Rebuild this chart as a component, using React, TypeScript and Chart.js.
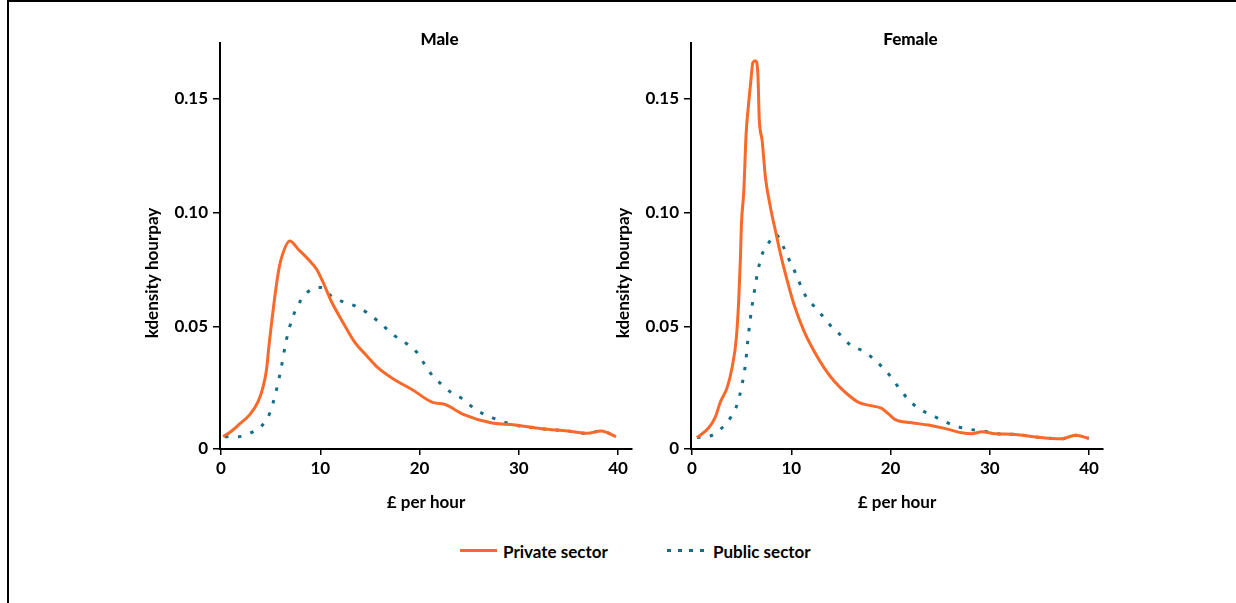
import React, { useEffect, useRef } from "react";
import { Chart, registerables } from "chart.js";

Chart.register(...registerables);

const FONT = "Lato, 'Noto Sans', sans-serif";
const ORANGE = "#F8692A";
const TEAL = "#146E89";

// Axis ticks
const xTickValues = [0, 10, 20, 30, 40];
const yTickValues = [0, 0.05, 0.1, 0.15];
const yTickLabels = ["0", "0.05", "0.10", "0.15"];
const X_MIN = -0.1;
const X_MAX = 41.4;
const Y_MIN = -0.0035;
const Y_MAX = 0.1745;

const seriesNames = ["Private sector", "Public sector"];
const panelTitles = ["Male", "Female"];
const xAxisTitle = "£ per hour";
const yAxisTitle = "kdensity hourpay";

// Male, private sector
const malePrivateHour = [0.23, 1.07, 1.91, 2.92, 3.76, 4.26, 4.59, 4.83, 5.1, 5.43, 5.77, 6.1, 6.94, 7.78, 8.95, 9.63, 10.3, 11.1, 12.3, 13.5, 14.7, 15.8, 17.7, 19.2, 21.4, 22.5, 24.4, 27.2, 29.6, 32.3, 34.9, 36.9, 38.3, 39.8];
const malePrivateDensity = [0.0019, 0.0044, 0.0076, 0.0117, 0.0175, 0.0241, 0.0314, 0.0417, 0.0519, 0.0636, 0.0738, 0.0804, 0.0877, 0.0841, 0.0789, 0.0753, 0.0694, 0.0614, 0.0519, 0.0431, 0.0373, 0.0322, 0.0263, 0.0227, 0.0168, 0.0161, 0.0117, 0.008, 0.007, 0.0054, 0.0044, 0.0034, 0.0044, 0.0019];

// Male, public sector
const malePublicHour = [0.4, 1.74, 2.92, 4.09, 4.93, 5.6, 6.1, 6.6, 7.27, 8.1, 9.12, 10.13, 11.1, 12.3, 13.5, 14.7, 15.8, 17.5, 18.8, 19.7, 20.4, 21.2, 22.2, 23.2, 24.4, 25.6, 26.9, 28.2, 29.6, 32.3, 34.9, 36.9, 38.3, 39.8];
const malePublicDensity = [0.0019, 0.0019, 0.0034, 0.0066, 0.0124, 0.0227, 0.0329, 0.0446, 0.0548, 0.0621, 0.0665, 0.0673, 0.0636, 0.061, 0.0592, 0.0563, 0.0526, 0.0461, 0.0424, 0.039, 0.0344, 0.0292, 0.0249, 0.0212, 0.0183, 0.0139, 0.011, 0.0088, 0.007, 0.0054, 0.0044, 0.0034, 0.0044, 0.0019];

// Female, private sector
const femalePrivateHour = [0.5, 1.69, 2.35, 2.86, 3.54, 4.04, 4.47, 4.72, 4.88, 4.98, 5.22, 5.45, 5.73, 5.96, 6.13, 6.39, 6.64, 6.77, 7.07, 7.4, 7.91, 8.41, 8.92, 9.6, 10.27, 11.28, 12.29, 13.3, 14.31, 15.66, 16.84, 18.0, 19.1, 19.77, 20.43, 22.12, 23.81, 25.83, 27.17, 28.18, 29.19, 30.54, 32.56, 34.58, 37.27, 38.62, 39.97];
const femalePrivateDensity = [0.0015, 0.0058, 0.0105, 0.0171, 0.0234, 0.0322, 0.0453, 0.0629, 0.0804, 0.095, 0.1096, 0.1345, 0.1491, 0.1594, 0.1659, 0.1667, 0.1608, 0.1418, 0.1316, 0.1155, 0.1023, 0.0921, 0.0819, 0.0702, 0.0599, 0.0482, 0.0395, 0.0322, 0.0263, 0.0205, 0.0168, 0.0155, 0.0143, 0.012, 0.0095, 0.008, 0.007, 0.0051, 0.0036, 0.0032, 0.0041, 0.0032, 0.0029, 0.0018, 0.001, 0.0025, 0.0012];

// Female, public sector
const femalePublicHour = [0.5, 1.85, 3.03, 3.87, 4.55, 5.05, 5.38, 5.62, 5.89, 6.23, 6.64, 7.07, 7.74, 8.41, 9.16, 9.76, 10.33, 11.35, 12.35, 13.3, 14.14, 15.05, 16.06, 17.24, 18.3, 19.3, 20.1, 20.94, 21.79, 22.8, 24.14, 25.32, 26.5, 28.0, 29.36, 30.54, 32.56, 34.58, 37.27, 38.62, 39.97];
const femalePublicDensity = [0.0015, 0.0022, 0.0058, 0.0102, 0.0161, 0.0249, 0.0336, 0.0439, 0.0541, 0.0643, 0.0746, 0.0819, 0.087, 0.0906, 0.0855, 0.0797, 0.0746, 0.0643, 0.0588, 0.0541, 0.0497, 0.0461, 0.0417, 0.0395, 0.036, 0.0318, 0.0278, 0.0227, 0.0183, 0.0143, 0.0114, 0.0088, 0.0066, 0.0051, 0.0044, 0.0032, 0.0029, 0.0018, 0.001, 0.0025, 0.0012];

const toPoints = (xs: number[], ys: number[]) => xs.map((x, i) => ({ x, y: ys[i] }));

const panelTextPlugin = {
  id: "panelText",
  afterDraw(chart: any, _args: any, opts: any) {
    const { ctx, chartArea } = chart;
    ctx.save();
    ctx.fillStyle = "#000";
    ctx.textAlign = "center";
    ctx.textBaseline = "middle";
    ctx.font = `900 17px ${FONT}`;
    ctx.fillText(opts.title, chartArea.left + 219.5, chartArea.top - 3);
    ctx.translate(chartArea.left - 67, chartArea.top + 230);
    ctx.rotate(-Math.PI / 2);
    ctx.font = `bold 17px ${FONT}`;
    ctx.fillText(opts.yTitle, 0, 0);
    ctx.restore();
  },
};

type PanelProps = {
  title: string;
  left: number;
  width: number;
  yAxisWidth: number;
  privateHour: number[];
  privateDensity: number[];
  publicHour: number[];
  publicDensity: number[];
};

const CANVAS_H = 530;
const AREA_BOTTOM = 449;

function Panel(p: PanelProps) {
  const ref = useRef<HTMLCanvasElement | null>(null);
  useEffect(() => {
    if (!ref.current) return;
    const tickFont = { family: FONT, size: 17, weight: "bold" as any };
    const chart = new Chart(ref.current, {
      type: "line",
      data: {
        datasets: [
          {
            label: seriesNames[0],
            data: toPoints(p.privateHour, p.privateDensity),
            borderColor: ORANGE,
            backgroundColor: ORANGE,
            borderWidth: 3,
            pointRadius: 0,
            cubicInterpolationMode: "monotone",
          },
          {
            label: seriesNames[1],
            data: toPoints(p.publicHour, p.publicDensity),
            borderColor: TEAL,
            backgroundColor: TEAL,
            borderWidth: 3,
            borderDash: [3.5, 9.5],
            pointRadius: 0,
            cubicInterpolationMode: "monotone",
          },
        ],
      },
      options: {
        responsive: false,
        animation: false,
        devicePixelRatio: 1,
        layout: { padding: { left: 0, right: 8, top: 43, bottom: 0 } },
        plugins: {
          legend: { display: false },
          tooltip: { enabled: false },
          title: { display: false },
          panelText: { title: p.title, yTitle: yAxisTitle },
        } as any,
        scales: {
          x: {
            type: "linear",
            min: X_MIN,
            max: X_MAX,
            afterBuildTicks: (s: any) => {
              s.ticks = xTickValues.map((v) => ({ value: v }));
            },
            afterFit: (s: any) => {
              s.height = CANVAS_H - AREA_BOTTOM;
            },
            grid: { display: true, drawOnChartArea: false, drawTicks: true, tickLength: 6, color: "#000", lineWidth: 1.5 },
            border: { display: true, color: "#000", width: 2 },
            ticks: {
              color: "#000",
              font: tickFont,
              padding: 3,
              maxRotation: 0,
              callback: (v: any) => String(v),
            },
            title: {
              display: true,
              text: xAxisTitle,
              color: "#000",
              font: { family: FONT, size: 17, weight: "bold" as any, lineHeight: 1.2 },
              padding: { top: 0, bottom: 17 },
            },
          },
          y: {
            type: "linear",
            min: Y_MIN,
            max: Y_MAX,
            afterBuildTicks: (s: any) => {
              s.ticks = yTickValues.map((v) => ({ value: v === 0 ? Y_MIN : v }));
            },
            afterFit: (s: any) => {
              s.width = p.yAxisWidth;
            },
            grid: { display: true, drawOnChartArea: false, drawTicks: true, tickLength: 7, color: "#000", lineWidth: 1.5 },
            border: { display: true, color: "#000", width: 2 },
            ticks: {
              color: "#000",
              font: tickFont,
              padding: 5,
              callback: (_v: any, i: number) => yTickLabels[i],
            },
          },
        },
      },
      plugins: [panelTextPlugin],
    });
    return () => chart.destroy();
  }, []);
  return (
    <canvas
      ref={ref}
      width={p.width}
      height={CANVAS_H}
      style={{ position: "absolute", left: p.left, top: 0, width: p.width, height: CANVAS_H }}
    />
  );
}

export default function App() {
  const legendText: React.CSSProperties = {
    position: "absolute",
    top: 541,
    fontFamily: FONT,
    fontSize: 17,
    fontWeight: 700,
    color: "#000",
    lineHeight: "22px",
    whiteSpace: "nowrap",
  };
  return (
    <div style={{ position: "absolute", left: 0, top: 0, width: 1236, height: 603, background: "#fff", overflow: "hidden" }}>
      <div
        style={{
          position: "absolute",
          left: 7,
          top: 0,
          width: 1240,
          height: 610,
          borderLeft: "2px solid #000",
          borderTop: "2px solid #000",
          boxSizing: "border-box",
        }}
      />
      <Panel
        title={panelTitles[0]}
        left={100}
        width={540}
        yAxisWidth={120}
        privateHour={malePrivateHour}
        privateDensity={malePrivateDensity}
        publicHour={malePublicHour}
        publicDensity={malePublicDensity}
      />
      <Panel
        title={panelTitles[1]}
        left={600}
        width={511}
        yAxisWidth={91}
        privateHour={femalePrivateHour}
        privateDensity={femalePrivateDensity}
        publicHour={femalePublicHour}
        publicDensity={femalePublicDensity}
      />
      <div style={{ position: "absolute", left: 460, top: 549, width: 37, height: 3, background: ORANGE }} />
      <div style={{ ...legendText, left: 503 }}>{seriesNames[0]}</div>
      <div
        style={{
          position: "absolute",
          left: 667,
          top: 549,
          width: 38,
          height: 3,
          background: `repeating-linear-gradient(to right, ${TEAL} 0px, ${TEAL} 3.5px, transparent 3.5px, transparent 11px)`,
        }}
      />
      <div style={{ ...legendText, left: 713 }}>{seriesNames[1]}</div>
    </div>
  );
}
